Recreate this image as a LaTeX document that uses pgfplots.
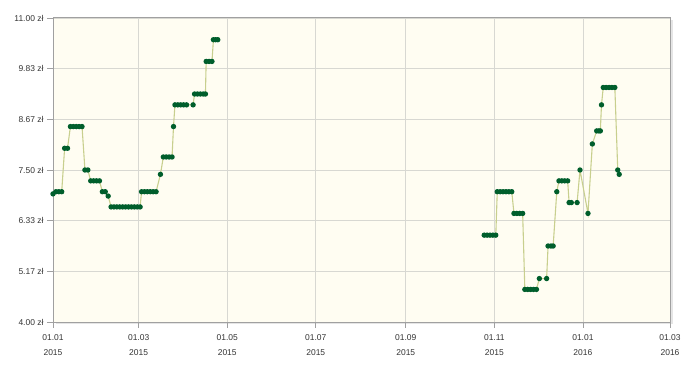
\documentclass[border=0pt]{standalone}
\usepackage{pgfplots}
\pgfplotsset{compat=1.18}
\usepackage{fontspec}
\setmainfont{Liberation Sans}
\definecolor{bgivory}{HTML}{FFFDF2}
\definecolor{gridc}{HTML}{D8D8D2}
\definecolor{axisc}{HTML}{A0A0A0}
\definecolor{linec}{HTML}{C8CF8E}
\definecolor{markc}{HTML}{005E2C}
\definecolor{labc}{HTML}{333333}
\pgfplotstableread{
x y
0 6.95
2 7.0
4 7.0
6 7.0
8 8.0
10 8.0
12 8.5
14 8.5
16 8.5
18 8.5
20 8.5
22 7.5
24 7.5
26 7.25
28 7.25
30 7.25
32 7.25
34 7.0
36 7.0
38 6.9
40 6.65
42 6.65
44 6.65
46 6.65
48 6.65
50 6.65
52 6.65
54 6.65
56 6.65
58 6.65
60 6.65
61 7.0
63 7.0
65 7.0
67 7.0
69 7.0
71 7.0
74 7.4
76 7.8
78 7.8
80 7.8
82 7.8
83 8.5
84 9.0
86 9.0
88 9.0
90 9.0
92 9.0
96.5 9.0
97.5 9.25
99.5 9.25
101.5 9.25
103.5 9.25
105 9.25
105.5 10.0
107.5 10.0
109.5 10.0
110.5 10.5
112 10.5
113.5 10.5
}\seriesA
\pgfplotstableread{
x y
297 6.0
299 6.0
301 6.0
303 6.0
305 6.0
306 7.0
308 7.0
310 7.0
312 7.0
314 7.0
316 7.0
317.5 6.5
319.5 6.5
321.5 6.5
323.5 6.5
325 4.75
327 4.75
329 4.75
331 4.75
333 4.75
335 5.0
340 5.0
341 5.75
343 5.75
344.5 5.75
347 7.0
348.5 7.25
350.5 7.25
352.5 7.25
354.5 7.25
355.5 6.75
357 6.75
361 6.75
363 7.5
368.5 6.5
371.5 8.1
374.5 8.4
376 8.4
377 8.4
377.8 9.0
379 9.4
381 9.4
383 9.4
385 9.4
387 9.4
389 7.5
390 7.4
}\seriesB
\begin{document}
\begin{tikzpicture}[x=1bp,y=1bp]
\path (0,0) rectangle (690,372);
\fill[black!10] (56,48) rectangle (673,352);
\begin{axis}[
  at={(53bp,50bp)}, anchor=south west,
  scale only axis, width=617bp, height=304bp,
  xmin=0, xmax=425, ymin=4, ymax=11,
  axis background/.style={fill=bgivory},
  axis line style={draw=axisc, line width=1pt},
  grid=major, grid style={draw=gridc, line width=0.8pt},
  xtick={0,59,120,181,243,304,365,425},
  xticklabels={{01.01\\2015},{01.03\\2015},{01.05\\2015},{01.07\\2015},{01.09\\2015},{01.11\\2015},{01.01\\2016},{01.03\\2016}},
  ytick={4,5.1667,6.3333,7.5,8.6667,9.8333,11},
  yticklabels={4.00 zł,5.17 zł,6.33 zł,7.50 zł,8.67 zł,9.83 zł,11.00 zł},
  tick align=outside,
  major tick length=6bp,
  tick style={draw=axisc, line width=0.8pt},
  xticklabel style={align=center, font=\fontsize{8.5}{15}\selectfont, text=labc, yshift=-3bp},
  yticklabel style={font=\fontsize{8.5}{10}\selectfont, text=labc},
  xtick pos=bottom, ytick pos=left,
  clip=false,
]
\addplot[draw=linec, line width=1.1pt, mark=*, mark size=2.1bp,
  mark options={fill=markc, draw=markc}] table[x=x,y=y] {\seriesA};
\addplot[draw=linec, line width=1.1pt, mark=*, mark size=2.1bp,
  mark options={fill=markc, draw=markc}] table[x=x,y=y] {\seriesB};
\end{axis}
\end{tikzpicture}
\end{document}
